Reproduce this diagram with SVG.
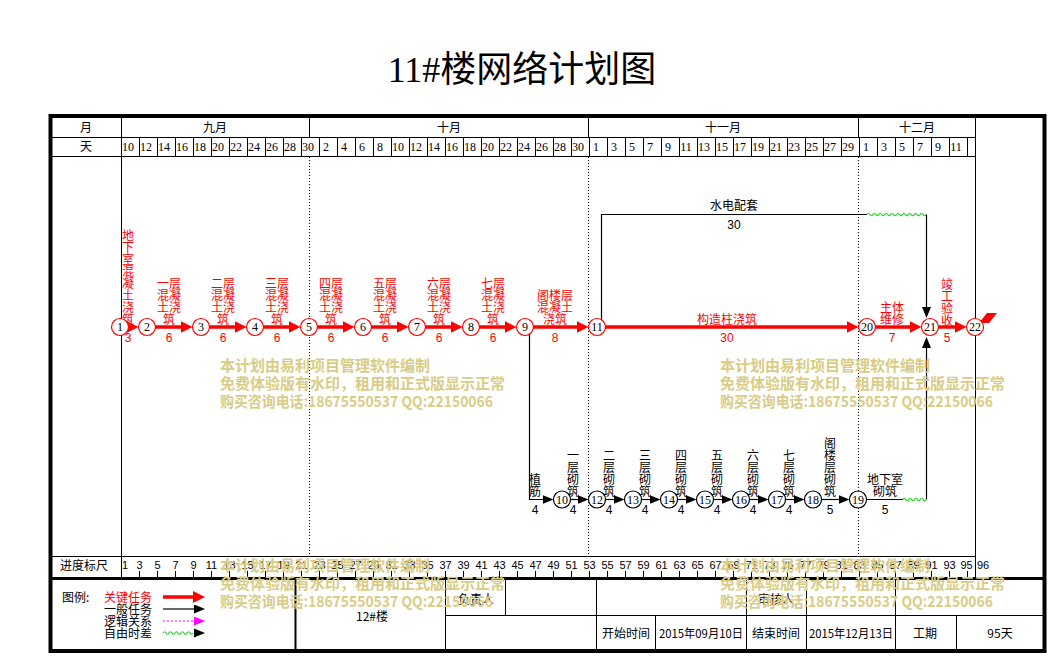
<svg xmlns="http://www.w3.org/2000/svg" width="1049" height="656" viewBox="0 0 1049 656">
<style>
.cn{font-family:"Noto Sans CJK SC","Liberation Sans",sans-serif;font-size:12px}
.sf{font-family:"Liberation Serif","Noto Sans CJK SC",serif;font-size:12px}
.sn{font-family:"Liberation Sans","Noto Sans CJK SC",sans-serif;font-size:11px}
.mid{text-anchor:middle}
.red{fill:#f00}
.blk{fill:#000}
.g{stroke:#000;stroke-width:1;fill:none}
.dot{stroke:#000;stroke-width:1;stroke-dasharray:1,2;fill:none}
.crit{stroke:#f00;stroke-width:3.5;fill:none}
.norm{stroke:#000;stroke-width:1.2;fill:none}
.wave{stroke:#11dd11;stroke-width:1.2;fill:none}
.nc{fill:#fff;stroke:#f00;stroke-width:1.2}
.nn{fill:#fff;stroke:#000;stroke-width:1.2}
.wm{font-family:"Noto Sans CJK SC","Liberation Sans",sans-serif;font-size:15px;font-weight:bold;fill:#d9cc85}
</style>
<defs>
<marker id="ar" markerUnits="userSpaceOnUse" markerWidth="13" markerHeight="13" refX="1" refY="6" orient="auto"><path d="M0,0 L12,6 L0,12 z" fill="#f00"/></marker>
<marker id="ab" markerUnits="userSpaceOnUse" markerWidth="12" markerHeight="10" refX="1" refY="4.5" orient="auto"><path d="M0,0 L11,4.5 L0,9 z" fill="#000"/></marker>
<marker id="am" markerUnits="userSpaceOnUse" markerWidth="12" markerHeight="10" refX="1" refY="4.5" orient="auto"><path d="M0,0 L11,4.5 L0,9 z" fill="#f0f"/></marker>
</defs>
<rect width="1049" height="656" fill="#fff"/>
<text x="522" y="82" class="mid" style="font-family:'Liberation Serif','Noto Sans CJK SC',serif;font-size:36px">11#楼网络计划图</text>

<g id="frame">
<rect x="50.5" y="116" width="994" height="535" fill="none" stroke="#000" stroke-width="4"/>
<path class="g" d="M50,137.5 H975.5 M50,156.5 H975.5 M50,556.5 H975.5 M121.5,118 V578 M975.5,118 V578 M309.5,118 V137 M588.5,118 V137 M858.5,118 V137"/>
<path class="dot" d="M309.5,157 V556 M588.5,157 V556 M858.5,157 V556"/>
<path d="M50,578.5 H1044" stroke="#000" stroke-width="3"/>
<path d="M295.5,578 V650" stroke="#000" stroke-width="2"/>
<path class="g" d="M445.5,578 V650 M445.5,615.5 H1044 M505.5,578 V615 M596.5,578 V650 M746.5,578 V650 M806.5,578 V650 M895.5,578 V650 M655.5,615 V650 M956.5,615 V650"/>
<path class="g" d="M139.5,137 V156 M157.5,137 V156 M175.5,137 V156 M193.5,137 V156 M211.5,137 V156 M229.5,137 V156 M247.5,137 V156 M265.5,137 V156 M283.5,137 V156 M301.5,137 V156 M319.5,137 V156 M337.5,137 V156 M355.5,137 V156 M373.5,137 V156 M391.5,137 V156 M409.5,137 V156 M427.5,137 V156 M445.5,137 V156 M463.5,137 V156 M481.5,137 V156 M499.5,137 V156 M517.5,137 V156 M535.5,137 V156 M553.5,137 V156 M571.5,137 V156 M589.5,137 V156 M607.5,137 V156 M625.5,137 V156 M643.5,137 V156 M661.5,137 V156 M679.5,137 V156 M697.5,137 V156 M715.5,137 V156 M733.5,137 V156 M751.5,137 V156 M769.5,137 V156 M787.5,137 V156 M805.5,137 V156 M823.5,137 V156 M841.5,137 V156 M859.5,137 V156 M877.5,137 V156 M895.5,137 V156 M913.5,137 V156 M931.5,137 V156 M949.5,137 V156 M967.5,137 V156"/>
<path class="g" d="M139.5,571 V577 M157.5,571 V577 M175.5,571 V577 M193.5,571 V577 M211.5,571 V577 M229.5,571 V577 M247.5,571 V577 M265.5,571 V577 M283.5,571 V577 M301.5,571 V577 M319.5,571 V577 M337.5,571 V577 M355.5,571 V577 M373.5,571 V577 M391.5,571 V577 M409.5,571 V577 M427.5,571 V577 M445.5,571 V577 M463.5,571 V577 M481.5,571 V577 M499.5,571 V577 M517.5,571 V577 M535.5,571 V577 M553.5,571 V577 M571.5,571 V577 M589.5,571 V577 M607.5,571 V577 M625.5,571 V577 M643.5,571 V577 M661.5,571 V577 M679.5,571 V577 M697.5,571 V577 M715.5,571 V577 M733.5,571 V577 M751.5,571 V577 M769.5,571 V577 M787.5,571 V577 M805.5,571 V577 M823.5,571 V577 M841.5,571 V577 M859.5,571 V577 M877.5,571 V577 M895.5,571 V577 M913.5,571 V577 M931.5,571 V577 M949.5,571 V577 M967.5,571 V577"/>
</g>

<g id="header" class="cn">
<text x="86" y="131.5" class="mid">月</text>
<text x="86" y="150.5" class="mid">天</text>
<text x="215" y="131.5" class="mid">九月</text>
<text x="449" y="131.5" class="mid">十月</text>
<text x="723" y="131.5" class="mid">十一月</text>
<text x="917" y="131.5" class="mid">十二月</text>
<text x="84" y="569.5" class="mid">进度标尺</text>
</g>

<g id="days" class="sf mid">
<text x="128" y="150.5">10</text><text x="146" y="150.5">12</text><text x="164" y="150.5">14</text><text x="182" y="150.5">16</text><text x="200" y="150.5">18</text><text x="218" y="150.5">20</text><text x="236" y="150.5">22</text><text x="254" y="150.5">24</text><text x="272" y="150.5">26</text><text x="290" y="150.5">28</text><text x="308" y="150.5">30</text>
<text x="326" y="150.5">2</text><text x="344" y="150.5">4</text><text x="362" y="150.5">6</text><text x="380" y="150.5">8</text><text x="398" y="150.5">10</text><text x="416" y="150.5">12</text><text x="434" y="150.5">14</text><text x="452" y="150.5">16</text><text x="470" y="150.5">18</text><text x="488" y="150.5">20</text><text x="506" y="150.5">22</text><text x="524" y="150.5">24</text><text x="542" y="150.5">26</text><text x="560" y="150.5">28</text><text x="578" y="150.5">30</text>
<text x="596" y="150.5">1</text><text x="614" y="150.5">3</text><text x="632" y="150.5">5</text><text x="650" y="150.5">7</text><text x="668" y="150.5">9</text><text x="686" y="150.5">11</text><text x="704" y="150.5">13</text><text x="722" y="150.5">15</text><text x="740" y="150.5">17</text><text x="758" y="150.5">19</text><text x="776" y="150.5">21</text><text x="794" y="150.5">23</text><text x="812" y="150.5">25</text><text x="830" y="150.5">27</text><text x="848" y="150.5">29</text>
<text x="866" y="150.5">1</text><text x="884" y="150.5">3</text><text x="902" y="150.5">5</text><text x="920" y="150.5">7</text><text x="938" y="150.5">9</text><text x="956" y="150.5">11</text>
</g>

<g id="scale" class="sn mid">
<text x="125" y="569">1</text><text x="139.5" y="569">3</text><text x="157.5" y="569">5</text><text x="175.5" y="569">7</text><text x="193.5" y="569">9</text><text x="211.5" y="569">11</text><text x="229.5" y="569">13</text><text x="247.5" y="569">15</text><text x="265.5" y="569">17</text><text x="283.5" y="569">19</text><text x="301.5" y="569">21</text><text x="319.5" y="569">23</text><text x="337.5" y="569">25</text><text x="355.5" y="569">27</text><text x="373.5" y="569">29</text><text x="391.5" y="569">31</text><text x="409.5" y="569">33</text><text x="427.5" y="569">35</text><text x="445.5" y="569">37</text><text x="463.5" y="569">39</text><text x="481.5" y="569">41</text><text x="499.5" y="569">43</text><text x="517.5" y="569">45</text><text x="535.5" y="569">47</text><text x="553.5" y="569">49</text><text x="571.5" y="569">51</text><text x="589.5" y="569">53</text><text x="607.5" y="569">55</text><text x="625.5" y="569">57</text><text x="643.5" y="569">59</text><text x="661.5" y="569">61</text><text x="679.5" y="569">63</text><text x="697.5" y="569">65</text><text x="715.5" y="569">67</text><text x="733.5" y="569">69</text><text x="751.5" y="569">71</text><text x="769.5" y="569">73</text><text x="787.5" y="569">75</text><text x="805.5" y="569">77</text><text x="823.5" y="569">79</text><text x="841.5" y="569">81</text><text x="859.5" y="569">83</text><text x="877.5" y="569">85</text><text x="895.5" y="569">87</text><text x="913.5" y="569">89</text><text x="931.5" y="569">91</text><text x="949.5" y="569">93</text><text x="966.5" y="569">95</text><text x="983" y="569">96</text>
</g>

<g id="connectors">
<g id="e1-2"><line class="crit" x1="120" y1="327" x2="127.5" y2="327" marker-end="url(#ar)"/>
<text class="cn red mid"><tspan x="128" y="239.5">地</tspan><tspan x="128" y="251.5">下</tspan><tspan x="128" y="263.5">室</tspan><tspan x="128" y="275.5">混</tspan><tspan x="128" y="287.5">凝</tspan><tspan x="128" y="299.5">土</tspan><tspan x="128" y="311.5">浇</tspan><tspan x="128" y="323.5">筑</tspan></text>
<text x="128" y="342" class="sn red mid" style="font-size:12px">3</text></g>
<g id="e2-3"><line class="crit" x1="147" y1="327" x2="181.5" y2="327" marker-end="url(#ar)"/>
<text class="cn red mid"><tspan x="169" y="287.5">一层</tspan><tspan x="169" y="299.5">混凝</tspan><tspan x="169" y="311.5">土浇</tspan><tspan x="169" y="323.5">筑</tspan></text>
<text x="169" y="342" class="sn red mid" style="font-size:12px">6</text></g>
<g id="e3-4"><line class="crit" x1="201" y1="327" x2="235.5" y2="327" marker-end="url(#ar)"/>
<text class="cn red mid"><tspan x="223" y="287.5">二层</tspan><tspan x="223" y="299.5">混凝</tspan><tspan x="223" y="311.5">土浇</tspan><tspan x="223" y="323.5">筑</tspan></text>
<text x="223" y="342" class="sn red mid" style="font-size:12px">6</text></g>
<g id="e4-5"><line class="crit" x1="255" y1="327" x2="289.5" y2="327" marker-end="url(#ar)"/>
<text class="cn red mid"><tspan x="277" y="287.5">三层</tspan><tspan x="277" y="299.5">混凝</tspan><tspan x="277" y="311.5">土浇</tspan><tspan x="277" y="323.5">筑</tspan></text>
<text x="277" y="342" class="sn red mid" style="font-size:12px">6</text></g>
<g id="e5-6"><line class="crit" x1="309" y1="327" x2="343.5" y2="327" marker-end="url(#ar)"/>
<text class="cn red mid"><tspan x="331" y="287.5">四层</tspan><tspan x="331" y="299.5">混凝</tspan><tspan x="331" y="311.5">土浇</tspan><tspan x="331" y="323.5">筑</tspan></text>
<text x="331" y="342" class="sn red mid" style="font-size:12px">6</text></g>
<g id="e6-7"><line class="crit" x1="363" y1="327" x2="397.5" y2="327" marker-end="url(#ar)"/>
<text class="cn red mid"><tspan x="385" y="287.5">五层</tspan><tspan x="385" y="299.5">混凝</tspan><tspan x="385" y="311.5">土浇</tspan><tspan x="385" y="323.5">筑</tspan></text>
<text x="385" y="342" class="sn red mid" style="font-size:12px">6</text></g>
<g id="e7-8"><line class="crit" x1="417" y1="327" x2="451.5" y2="327" marker-end="url(#ar)"/>
<text class="cn red mid"><tspan x="439" y="287.5">六层</tspan><tspan x="439" y="299.5">混凝</tspan><tspan x="439" y="311.5">土浇</tspan><tspan x="439" y="323.5">筑</tspan></text>
<text x="439" y="342" class="sn red mid" style="font-size:12px">6</text></g>
<g id="e8-9"><line class="crit" x1="471" y1="327" x2="505.5" y2="327" marker-end="url(#ar)"/>
<text class="cn red mid"><tspan x="493" y="287.5">七层</tspan><tspan x="493" y="299.5">混凝</tspan><tspan x="493" y="311.5">土浇</tspan><tspan x="493" y="323.5">筑</tspan></text>
<text x="493" y="342" class="sn red mid" style="font-size:12px">6</text></g>
<g id="e9-11"><line class="crit" x1="525" y1="327" x2="577.5" y2="327" marker-end="url(#ar)"/>
<text class="cn red mid"><tspan x="555" y="299.5">阁楼层</tspan><tspan x="555" y="311.5">混凝土</tspan><tspan x="555" y="323.5">浇筑</tspan></text>
<text x="555" y="342" class="sn red mid" style="font-size:12px">8</text></g>
<g id="e11-20"><line class="crit" x1="597" y1="327" x2="847.5" y2="327" marker-end="url(#ar)"/>
<text x="727" y="323.5" class="cn red mid">构造柱浇筑</text>
<text x="727" y="342" class="sn red mid" style="font-size:12px">30</text></g>
<g id="e20-21"><line class="crit" x1="867" y1="327" x2="910.5" y2="327" marker-end="url(#ar)"/>
<text class="cn red mid"><tspan x="892" y="311.5">主体</tspan><tspan x="892" y="323.5">维修</tspan></text>
<text x="892" y="342" class="sn red mid" style="font-size:12px">7</text></g>
<g id="e21-22"><line class="crit" x1="930" y1="327" x2="955.5" y2="327" marker-end="url(#ar)"/>
<text class="cn red mid"><tspan x="947" y="288.5">竣</tspan><tspan x="947" y="300.5">工</tspan><tspan x="947" y="312.5">验</tspan><tspan x="947" y="324.5">收</tspan></text>
<text x="947" y="342" class="sn red mid" style="font-size:12px">5</text></g>
<polygon points="979,323 987,313 997,313 989,323" fill="#f00"/>

<g id="e11-21"><path class="norm" d="M601.5,327 V214.5 H867"/>
<path class="wave" d="M867,214.5 q1.475,-2.5 2.95,0 t2.95,0 t2.95,0 t2.95,0 t2.95,0 t2.95,0 t2.95,0 t2.95,0 t2.95,0 t2.95,0 t2.95,0 t2.95,0 t2.95,0 t2.95,0 t2.95,0 t2.95,0 t2.95,0 t2.95,0 t2.95,0 t2.95,0"/>
<path class="norm" d="M926.5,214.5 V308" marker-end="url(#ab)"/>
<text x="734" y="210" class="cn mid">水电配套</text>
<text x="734" y="228.5" class="sn mid" style="font-size:12px">30</text></g>

<g id="e9-10"><path class="norm" d="M529.5,327 V499.5 H543.5" marker-end="url(#ab)"/>
<text class="cn mid"><tspan x="535" y="483.5">植</tspan><tspan x="535" y="495.5">筋</tspan></text>
<text x="535" y="514" class="sn mid" style="font-size:12px">4</text></g>
<g id="e10-12"><line class="norm" x1="562" y1="499.5" x2="578.5" y2="499.5" marker-end="url(#ab)"/>
<text class="cn mid"><tspan x="573" y="459.5">一</tspan><tspan x="573" y="471.5">层</tspan><tspan x="573" y="483.5">砌</tspan><tspan x="573" y="495.5">筑</tspan></text>
<text x="573" y="514" class="sn mid" style="font-size:12px">4</text></g>
<g id="e12-13"><line class="norm" x1="597" y1="499.5" x2="614.5" y2="499.5" marker-end="url(#ab)"/>
<text class="cn mid"><tspan x="609" y="459.5">二</tspan><tspan x="609" y="471.5">层</tspan><tspan x="609" y="483.5">砌</tspan><tspan x="609" y="495.5">筑</tspan></text>
<text x="609" y="514" class="sn mid" style="font-size:12px">4</text></g>
<g id="e13-14"><line class="norm" x1="633" y1="499.5" x2="650.5" y2="499.5" marker-end="url(#ab)"/>
<text class="cn mid"><tspan x="645" y="459.5">三</tspan><tspan x="645" y="471.5">层</tspan><tspan x="645" y="483.5">砌</tspan><tspan x="645" y="495.5">筑</tspan></text>
<text x="645" y="514" class="sn mid" style="font-size:12px">4</text></g>
<g id="e14-15"><line class="norm" x1="669" y1="499.5" x2="686.5" y2="499.5" marker-end="url(#ab)"/>
<text class="cn mid"><tspan x="681" y="459.5">四</tspan><tspan x="681" y="471.5">层</tspan><tspan x="681" y="483.5">砌</tspan><tspan x="681" y="495.5">筑</tspan></text>
<text x="681" y="514" class="sn mid" style="font-size:12px">4</text></g>
<g id="e15-16"><line class="norm" x1="705" y1="499.5" x2="722.5" y2="499.5" marker-end="url(#ab)"/>
<text class="cn mid"><tspan x="717" y="459.5">五</tspan><tspan x="717" y="471.5">层</tspan><tspan x="717" y="483.5">砌</tspan><tspan x="717" y="495.5">筑</tspan></text>
<text x="717" y="514" class="sn mid" style="font-size:12px">4</text></g>
<g id="e16-17"><line class="norm" x1="741" y1="499.5" x2="758.5" y2="499.5" marker-end="url(#ab)"/>
<text class="cn mid"><tspan x="753" y="459.5">六</tspan><tspan x="753" y="471.5">层</tspan><tspan x="753" y="483.5">砌</tspan><tspan x="753" y="495.5">筑</tspan></text>
<text x="753" y="514" class="sn mid" style="font-size:12px">4</text></g>
<g id="e17-18"><line class="norm" x1="777" y1="499.5" x2="794.5" y2="499.5" marker-end="url(#ab)"/>
<text class="cn mid"><tspan x="789" y="459.5">七</tspan><tspan x="789" y="471.5">层</tspan><tspan x="789" y="483.5">砌</tspan><tspan x="789" y="495.5">筑</tspan></text>
<text x="789" y="514" class="sn mid" style="font-size:12px">4</text></g>
<g id="e18-19"><line class="norm" x1="813" y1="499.5" x2="839.5" y2="499.5" marker-end="url(#ab)"/>
<text class="cn mid"><tspan x="830" y="447.5">阁</tspan><tspan x="830" y="459.5">楼</tspan><tspan x="830" y="471.5">层</tspan><tspan x="830" y="483.5">砌</tspan><tspan x="830" y="495.5">筑</tspan></text>
<text x="830" y="514" class="sn mid" style="font-size:12px">5</text></g>
<g id="e19-21"><line class="norm" x1="858" y1="499.5" x2="903" y2="499.5"/>
<path class="wave" d="M903,499.5 q1.4375,-2.5 2.875,0 t2.875,0 t2.875,0 t2.875,0 t2.875,0 t2.875,0 t2.875,0 t2.875,0"/>
<path class="norm" d="M926.5,499.5 V347" marker-end="url(#ab)"/>
<text class="cn mid"><tspan x="885" y="483.5">地下室</tspan><tspan x="885" y="495.5">砌筑</tspan></text>
<text x="885" y="514" class="sn mid" style="font-size:12px">5</text></g>
</g>

<g id="nodes" class="sf mid">
<g id="n1"><circle class="nc" cx="120" cy="327" r="8.5"/><text x="120" y="331">1</text></g>
<g id="n2"><circle class="nc" cx="147" cy="327" r="8.5"/><text x="147" y="331">2</text></g>
<g id="n3"><circle class="nc" cx="201" cy="327" r="8.5"/><text x="201" y="331">3</text></g>
<g id="n4"><circle class="nc" cx="255" cy="327" r="8.5"/><text x="255" y="331">4</text></g>
<g id="n5"><circle class="nc" cx="309" cy="327" r="8.5"/><text x="309" y="331">5</text></g>
<g id="n6"><circle class="nc" cx="363" cy="327" r="8.5"/><text x="363" y="331">6</text></g>
<g id="n7"><circle class="nc" cx="417" cy="327" r="8.5"/><text x="417" y="331">7</text></g>
<g id="n8"><circle class="nc" cx="471" cy="327" r="8.5"/><text x="471" y="331">8</text></g>
<g id="n9"><circle class="nc" cx="525" cy="327" r="8.5"/><text x="525" y="331">9</text></g>
<g id="n11"><circle class="nc" cx="597" cy="327" r="8.5"/><text x="597" y="331">11</text></g>
<g id="n20"><circle class="nc" cx="867" cy="327" r="8.5"/><text x="867" y="331">20</text></g>
<g id="n21"><circle class="nc" cx="930" cy="327" r="8.5"/><text x="930" y="331">21</text></g>
<g id="n22"><circle class="nc" cx="975" cy="327" r="8.5"/><text x="975" y="331">22</text></g>
<g id="n10"><circle class="nn" cx="562" cy="499.5" r="8.5"/><text x="562" y="503.5">10</text></g>
<g id="n12"><circle class="nn" cx="597" cy="499.5" r="8.5"/><text x="597" y="503.5">12</text></g>
<g id="n13"><circle class="nn" cx="633" cy="499.5" r="8.5"/><text x="633" y="503.5">13</text></g>
<g id="n14"><circle class="nn" cx="669" cy="499.5" r="8.5"/><text x="669" y="503.5">14</text></g>
<g id="n15"><circle class="nn" cx="705" cy="499.5" r="8.5"/><text x="705" y="503.5">15</text></g>
<g id="n16"><circle class="nn" cx="741" cy="499.5" r="8.5"/><text x="741" y="503.5">16</text></g>
<g id="n17"><circle class="nn" cx="777" cy="499.5" r="8.5"/><text x="777" y="503.5">17</text></g>
<g id="n18"><circle class="nn" cx="813" cy="499.5" r="8.5"/><text x="813" y="503.5">18</text></g>
<g id="n19"><circle class="nn" cx="858" cy="499.5" r="8.5"/><text x="858" y="503.5">19</text></g>
</g>

<g id="legend" class="cn">
<text x="62" y="601.5">图例:</text>
<text x="104" y="601.5" class="red">关键任务</text>
<line class="crit" x1="163" y1="597" x2="194" y2="597" marker-end="url(#ar)"/>
<text x="104" y="613.5">一般任务</text>
<line class="norm" x1="163" y1="609" x2="195" y2="609" marker-end="url(#ab)"/>
<text x="104" y="625.5">逻辑关系</text>
<line x1="163" y1="621" x2="195" y2="621" stroke="#f0f" stroke-width="1.2" stroke-dasharray="2,2" marker-end="url(#am)"/>
<text x="104" y="637.5">自由时差</text>
<path class="wave" d="M163,633 q1.5,-2.5 3,0 t3,0 t3,0 t3,0 t3,0 t3,0 t3,0 t3,0 t3,0 t3,0"/>
<path d="M194,628.5 L205,633 L194,637.5 z" fill="#000"/>
</g>

<g id="table" class="cn mid">
<text x="372" y="620.5">12#楼</text>
<text x="476" y="603.5">负责人</text>
<text x="776" y="603.5">审核人</text>
<text x="626" y="637.5">开始时间</text>
<text x="701" y="637.5" textLength="84" lengthAdjust="spacingAndGlyphs">2015年09月10日</text>
<text x="776" y="637.5">结束时间</text>
<text x="851" y="637.5" textLength="84" lengthAdjust="spacingAndGlyphs">2015年12月13日</text>
<text x="925" y="637.5">工期</text>
<text x="1000" y="637.5">95天</text>
</g>

<g id="watermark" class="wm">
<text x="220" y="370.5">本计划由易利项目管理软件编制</text>
<text x="220" y="388.5">免费体验版有水印，租用和正式版显示正常</text>
<text x="220" y="406.5" textLength="273" lengthAdjust="spacingAndGlyphs">购买咨询电话:18675550537 QQ:22150066</text>
<text x="720" y="370.5">本计划由易利项目管理软件编制</text>
<text x="720" y="388.5">免费体验版有水印，租用和正式版显示正常</text>
<text x="720" y="406.5" textLength="273" lengthAdjust="spacingAndGlyphs">购买咨询电话:18675550537 QQ:22150066</text>
<text x="220" y="570.5">本计划由易利项目管理软件编制</text>
<text x="220" y="588.5">免费体验版有水印，租用和正式版显示正常</text>
<text x="220" y="606.5" textLength="273" lengthAdjust="spacingAndGlyphs">购买咨询电话:18675550537 QQ:22150066</text>
<text x="720" y="570.5">本计划由易利项目管理软件编制</text>
<text x="720" y="588.5">免费体验版有水印，租用和正式版显示正常</text>
<text x="720" y="606.5" textLength="273" lengthAdjust="spacingAndGlyphs">购买咨询电话:18675550537 QQ:22150066</text>
</g>
</svg>
